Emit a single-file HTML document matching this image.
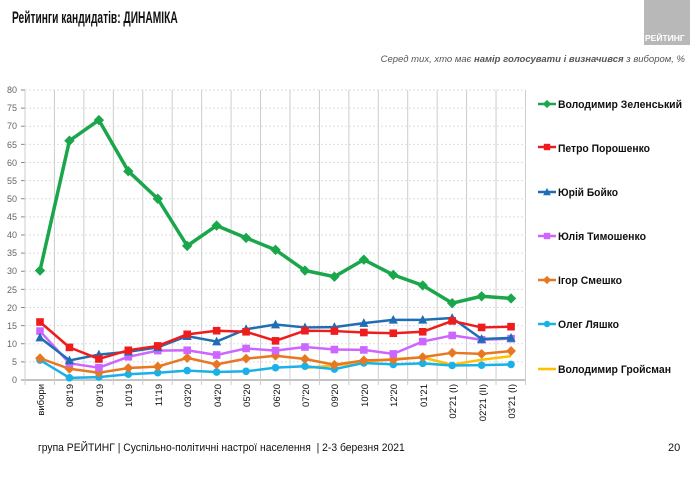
<!DOCTYPE html>
<html><head><meta charset="utf-8"><style>
body{margin:0;width:690px;height:488px;background:#fff;font-family:"Liberation Sans","DejaVu Sans",sans-serif;position:relative;overflow:hidden}
.t{position:absolute;white-space:nowrap;transform-origin:0 0}
</style></head><body>
<div class="t" style="left:12px;top:8px;font-size:17px;font-weight:bold;color:#111;transform:scaleX(0.6)">Рейтинги кандидатів: ДИНАМІКА</div>
<div class="t" style="left:644px;top:0;width:46px;height:45px;background:#b8b8b8"></div>
<div class="t" style="left:645px;top:33px;font-size:8.5px;font-weight:bold;color:#fff">РЕЙТИНГ</div>
<div class="t" style="right:5px;top:54px;font-size:9.5px;font-style:italic;color:#555">Серед тих, хто має <b>намір голосувати і визначився</b> з вибором, %</div>
<div class="t" style="left:38px;top:442px;font-size:11px;color:#111;transform:scaleX(0.94)">група РЕЙТИНГ | Суспільно-політичні настрої населення &nbsp;| 2-3 березня 2021</div>
<div class="t" style="left:668px;top:442px;font-size:11px;color:#111">20</div>
<svg id="s" width="690" height="488" style="position:absolute;left:0;top:0" font-family="Liberation Sans, sans-serif">
<g font-size="9" fill="#666" text-anchor="end">
<text x="17" y="383">0</text><text x="17" y="365">5</text><text x="17" y="347">10</text><text x="17" y="329">15</text><text x="17" y="311">20</text><text x="17" y="293">25</text><text x="17" y="274">30</text><text x="17" y="256">35</text><text x="17" y="238">40</text><text x="17" y="220">45</text><text x="17" y="202">50</text><text x="17" y="184">55</text><text x="17" y="166">60</text><text x="17" y="148">65</text><text x="17" y="129">70</text><text x="17" y="111">75</text><text x="17" y="93">80</text>
</g>
<g font-size="9.5" fill="#111" text-anchor="end">
<text transform="translate(44,384) rotate(-90)">вибори</text>
<text transform="translate(73,384) rotate(-90)">08'19</text>
<text transform="translate(103,384) rotate(-90)">09'19</text>
<text transform="translate(132,384) rotate(-90)">10'19</text>
<text transform="translate(162,384) rotate(-90)">11'19</text>
<text transform="translate(191,384) rotate(-90)">03'20</text>
<text transform="translate(221,384) rotate(-90)">04'20</text>
<text transform="translate(250,384) rotate(-90)">05'20</text>
<text transform="translate(280,384) rotate(-90)">06'20</text>
<text transform="translate(309,384) rotate(-90)">07'20</text>
<text transform="translate(338,384) rotate(-90)">09'20</text>
<text transform="translate(368,384) rotate(-90)">10'20</text>
<text transform="translate(397,384) rotate(-90)">12'20</text>
<text transform="translate(427,384) rotate(-90)">01'21</text>
<text transform="translate(456,384) rotate(-90)">02'21 (I)</text>
<text transform="translate(486,384) rotate(-90)">02'21 (II)</text>
<text transform="translate(515,384) rotate(-90)">03'21 (I)</text>
</g>
<g font-size="11" font-weight="bold" fill="#111">
<text x="558" y="108" textLength="124" lengthAdjust="spacingAndGlyphs">Володимир Зеленський</text>
<text x="558" y="152" textLength="92" lengthAdjust="spacingAndGlyphs">Петро Порошенко</text>
<text x="558" y="196" textLength="60" lengthAdjust="spacingAndGlyphs">Юрій Бойко</text>
<text x="558" y="240" textLength="88" lengthAdjust="spacingAndGlyphs">Юлія Тимошенко</text>
<text x="558" y="284" textLength="64" lengthAdjust="spacingAndGlyphs">Ігор Смешко</text>
<text x="558" y="328" textLength="61" lengthAdjust="spacingAndGlyphs">Олег Ляшко</text>
<text x="558" y="373" textLength="113" lengthAdjust="spacingAndGlyphs">Володимир Гройсман</text>
</g>
</svg>
<script>
var s=document.getElementById('s'),NS='http://www.w3.org/2000/svg';
function el(t,a){var e=document.createElementNS(NS,t);for(var k in a)e.setAttribute(k,a[k]);s.insertBefore(e,s.firstChild.nextSibling);return e}
function X(i){return 40+i*29.44}function Y(v){return 380-v*3.625}
for(var v=5;v<=80;v+=5)el('line',{x1:25,x2:526,y1:Y(v),y2:Y(v),stroke:'#ddd','stroke-dasharray':'2,2'});
for(var i=0;i<=17;i++)el('line',{x1:25+i*29.44,x2:25+i*29.44,y1:90,y2:385,stroke:'#ccc'});
el('line',{x1:25,x2:25,y1:90,y2:380,stroke:'#888'});el('line',{x1:25,x2:526,y1:380,y2:380,stroke:'#888'});
for(var v=0;v<=80;v+=5)el('line',{x1:21,x2:25,y1:Y(v),y2:Y(v),stroke:'#888'});
var D=[
['#ffc000',null,[null,null,null,null,null,null,null,null,null,3.3,4,5,5.8,6.2,4.2,5.6,6.6]],
['#1ab0e8','c',[5.5,0.6,0.8,1.6,2,2.6,2.2,2.4,3.4,3.8,3,4.7,4.3,4.6,4,4.1,4.3]],
['#e87722','d',[6,3.1,2,3.3,3.7,6.1,4.3,5.9,6.7,5.8,4.2,5.4,5.6,6.3,7.5,7.2,8]],
['#cc66ff','s',[13.5,4.6,3.4,6.4,8.1,8.2,6.9,8.7,8.1,9.1,8.4,8.3,7.2,10.6,12.3,11.1,11.4]],
['#1f6eb5','t',[11.7,5.4,7,7.8,9,12.1,10.6,14,15.3,14.5,14.6,15.7,16.6,16.6,17.1,11.3,11.6]],
['#ee1c1c','s',[16,9,5.8,8.2,9.4,12.6,13.6,13.3,10.8,13.6,13.5,13.1,12.9,13.3,16.3,14.5,14.7]],
['#1aa64a','d',[30.2,66,71.7,57.6,50,37,42.6,39.2,35.9,30.2,28.5,33.2,29,26.1,21.2,23.1,22.5]]];
var ly=[369,324,280,236,192,147,104];
function mk(t,x,y,c,r){if(t=='c')return ad('circle',{cx:x,cy:y,r:r,fill:c});
if(t=='s')return ad('rect',{x:x-r,y:y-r,width:2*r,height:2*r,fill:c});
if(t=='d')return ad('polygon',{points:[x,y-r*1.3,x+r*1.3,y,x,y+r*1.3,x-r*1.3,y].join(' '),fill:c});
if(t=='t')return ad('polygon',{points:[x,y-r*1.3,x+r*1.2,y+r,x-r*1.2,y+r].join(' '),fill:c});}
function ad(t,a){var e=document.createElementNS(NS,t);for(var k in a)e.setAttribute(k,a[k]);s.appendChild(e);return e}
D.forEach(function(d,j){var p=[];d[2].forEach(function(v,i){if(v!=null)p.push(X(i)+','+Y(v))});
ad('polyline',{points:p.join(' '),fill:'none',stroke:d[0],'stroke-width':j==6?3.5:2.5,'stroke-linejoin':'round'});
if(d[1])d[2].forEach(function(v,i){if(v!=null)mk(d[1],X(i),Y(v),d[0],j==6?4:3.8)});
ad('line',{x1:538,x2:556,y1:ly[j],y2:ly[j],stroke:d[0],'stroke-width':2.5});
if(d[1])mk(d[1],547,ly[j],d[0],3.2);});
</script>
</body></html>
